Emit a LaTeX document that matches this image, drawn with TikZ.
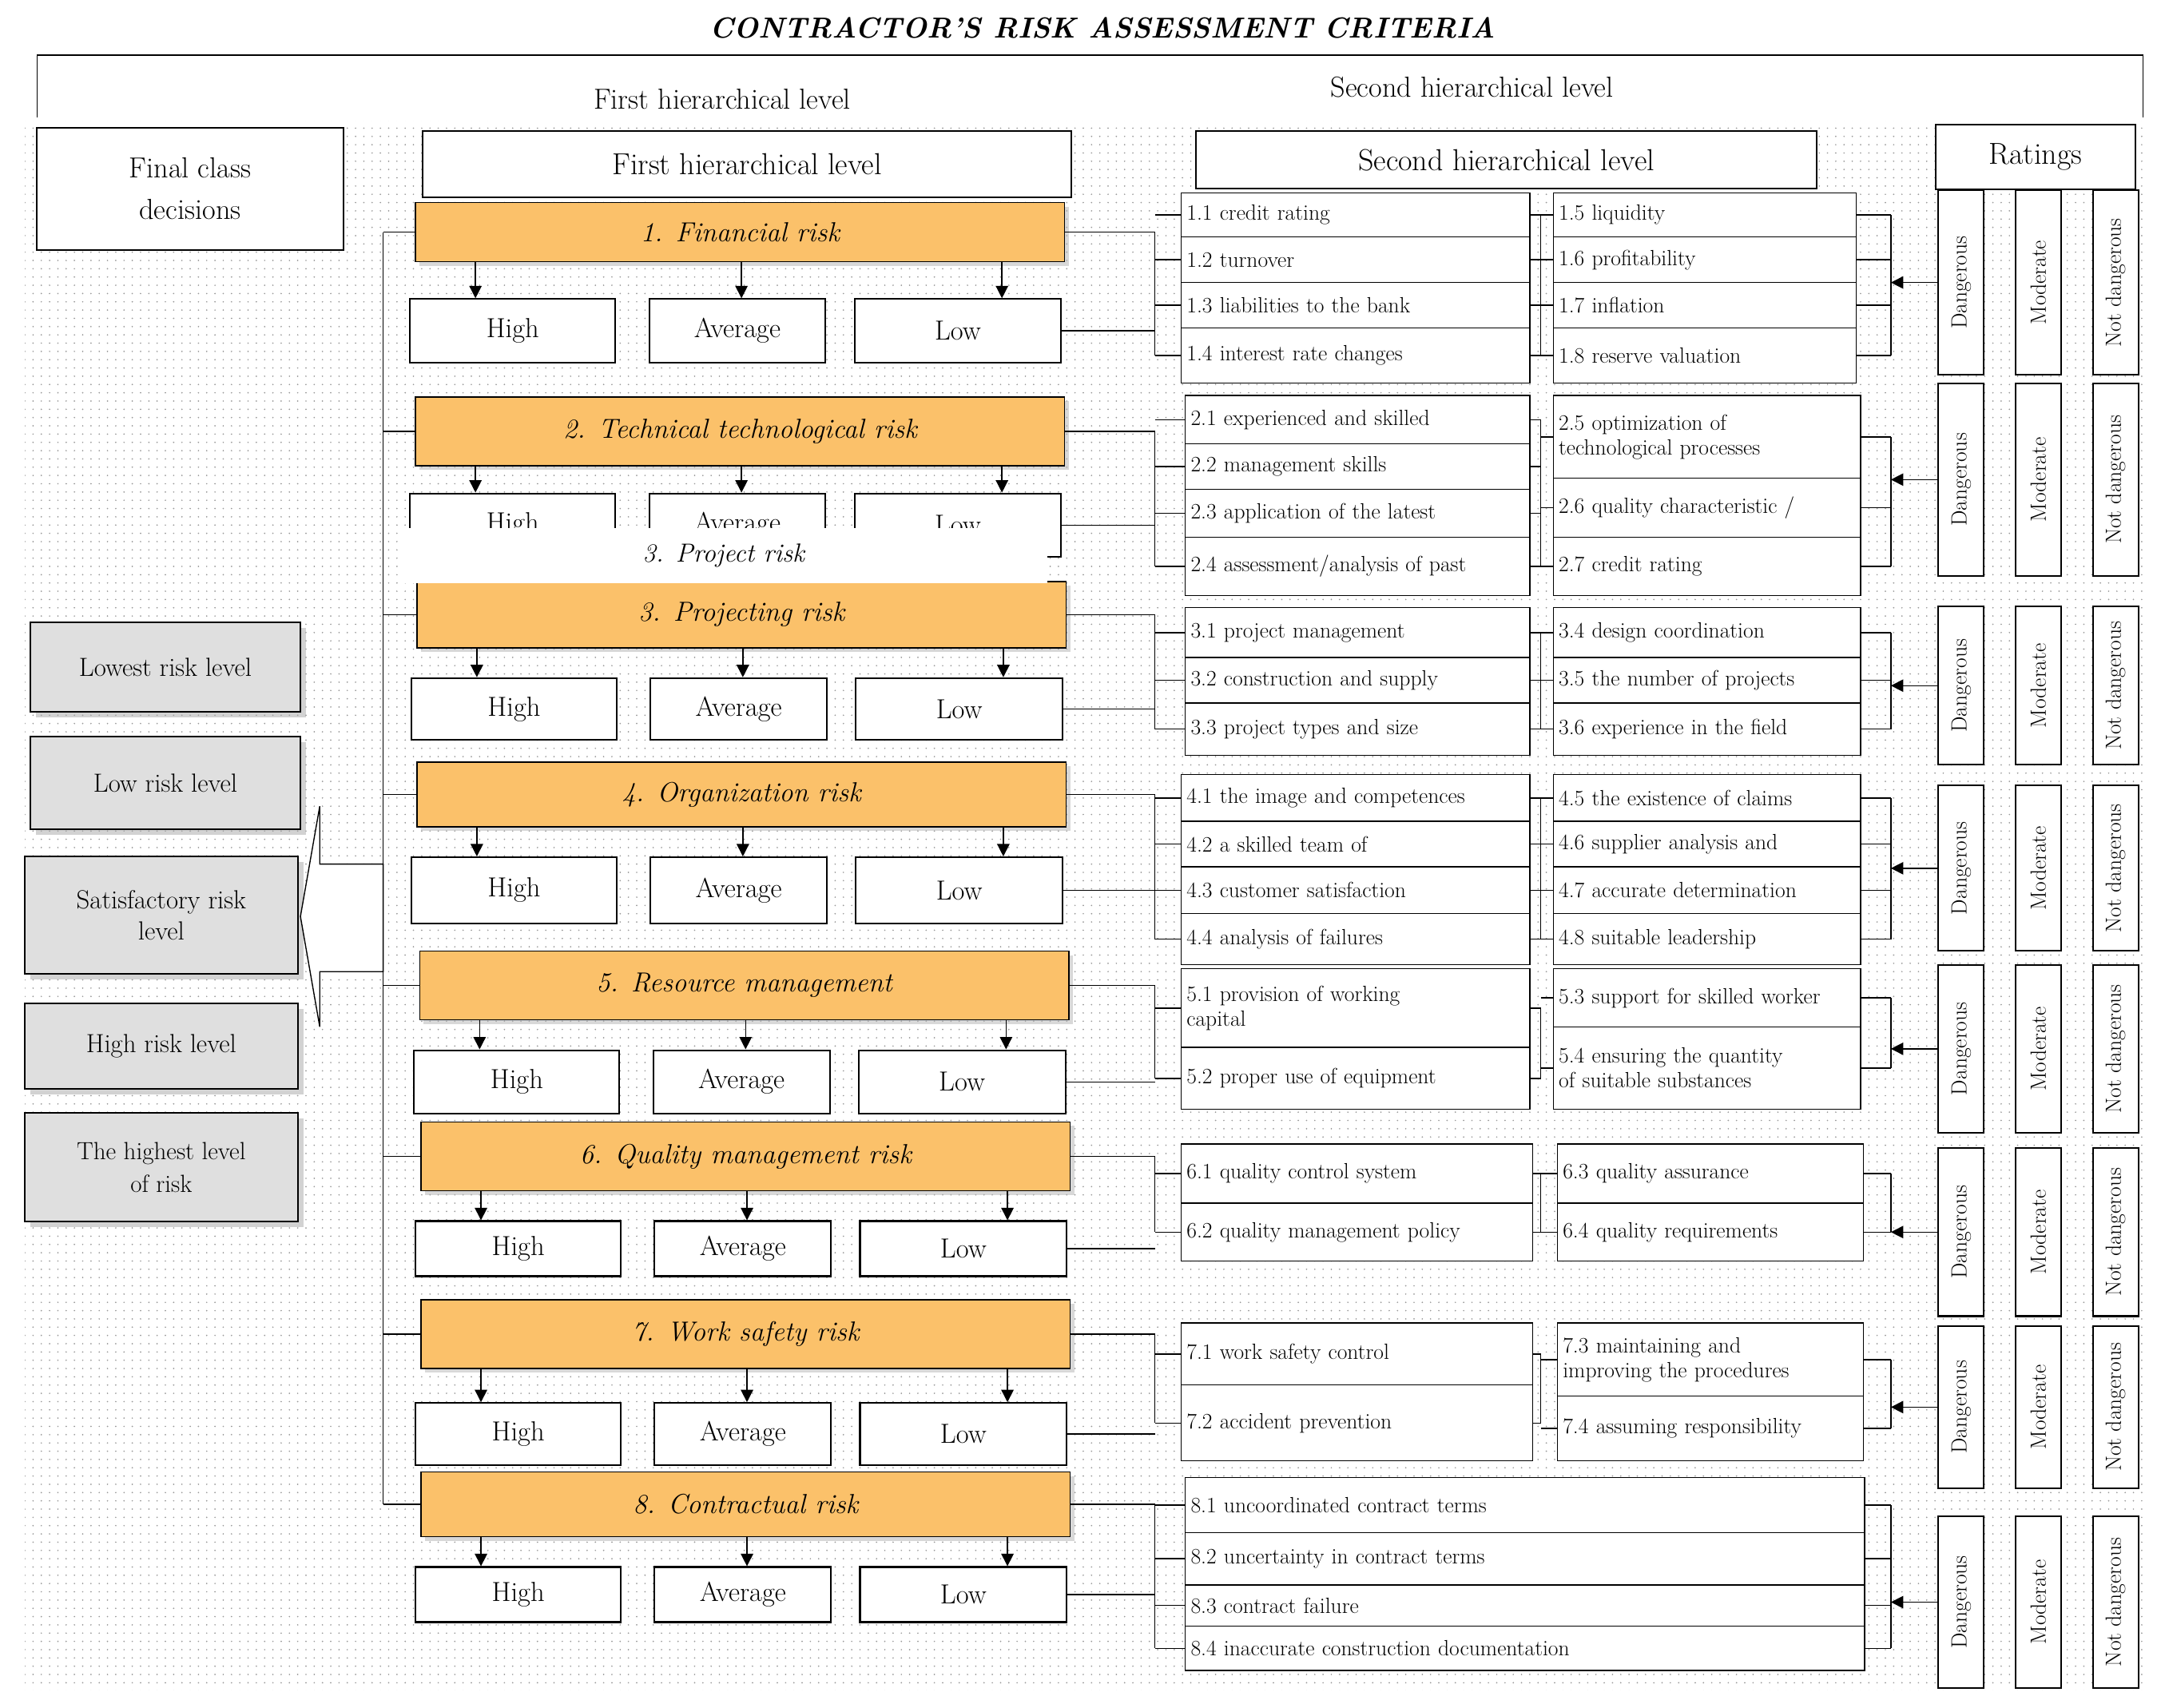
\documentclass[tikz,border=0pt]{standalone}
\usetikzlibrary{shadows,arrows.meta,patterns.meta,calc}
\definecolor{org}{HTML}{FBC16A}
\begin{document}
\begin{tikzpicture}[x=1pt,y=-1pt,
 sub/.style={draw,thick,align=left,inner xsep=4pt,inner ysep=1pt,font={\fontsize{16}{18}\selectfont}},
 hal/.style={draw,very thick,fill=white,font={\fontsize{20}{22}\selectfont},inner sep=0pt},
 ora/.style={draw,thick,fill=org,drop shadow={shadow xshift=3pt,shadow yshift=-3pt,fill=gray!60},font={\fontsize{20}{22}\selectfont\itshape},inner sep=0pt},
 gry/.style={draw,very thick,fill=gray!25,drop shadow={shadow xshift=4pt,shadow yshift=-4pt,fill=gray!70},align=center,font={\fontsize{19}{23}\selectfont},inner sep=0pt},
 hdr/.style={draw,very thick,fill=white,font={\fontsize{22}{24}\selectfont},inner sep=0pt},
 rat/.style={draw,very thick,fill=white,rotate=90,font={\fontsize{16}{18}\selectfont},inner sep=0pt,minimum height=33pt},
 arr/.style={thick,-{Triangle[length=9pt,width=9pt]}},
 ln/.style={thick}]
\useasboundingbox (0,0) rectangle (1568,1239);
\fill[white] (0,0) rectangle (1568,1239);
\fill[pattern={Dots[distance=6pt,radius=0.55pt]},pattern color=gray!80] (18,88) rectangle (1556,1226);
\newcommand\bx[6]{%
 \pgfmathsetmacro\bw{#4-#2}\pgfmathsetmacro\bh{#5-#3}\pgfmathsetmacro\tw{#4-#2-8}%
 \node[sub,fill=white,minimum width=\bw pt,minimum height=\bh pt,text width=\tw pt] (#1) at ({(#2+#4)/2},{(#3+#5)/2}) {#6};}
\newcommand\grp[7]{%
 \node[ora,minimum width=471pt,minimum height={#4-#3}] (o#1) at ({#2+235},{(#3+#4)/2}) {#5};
 \node[hal,minimum width=149pt,minimum height={#7-#6}] (h#1) at ({#2+70},{(#6+#7)/2}) {High};
 \node[hal,minimum width=128pt,minimum height={#7-#6}] (a#1) at ({#2+233},{(#6+#7)/2}) {Average};
 \node[hal,minimum width=150pt,minimum height={#7-#6}] (l#1) at ({#2+393},{(#6+#7)/2}) {Low};
 \coordinate (ax#1) at (#2+43,0);\coordinate (bx#1) at (#2+236,0);\coordinate (cx#1) at (#2+425,0);
 \draw[arr] (o#1.south -| ax#1) -- (h#1.north -| ax#1);
 \draw[arr] (o#1.south -| bx#1) -- (a#1.north -| bx#1);
 \draw[arr] (o#1.south -| cx#1) -- (l#1.north -| cx#1);
 \draw[ln] (o#1.west) -- (o#1.west -| spine);}
\newcommand\rt[3]{%
 \pgfmathsetmacro\rh{#3-#2}%
 \node[rat,minimum width=\rh pt] (d#1) at (1423,{(#2+#3)/2}) {Dangerous};
 \node[rat,minimum width=\rh pt] (m#1) at (1479,{(#2+#3)/2}) {Moderate};
 \node[rat,minimum width=\rh pt] (n#1) at (1535,{(#2+#3)/2}) {Not dangerous};}
\coordinate (spine) at (278,0);
\coordinate (lb) at (838,0);
\coordinate (mb) at (1118,0);
\coordinate (rb) at (1372,0);
% title
\node[font={\fontsize{21}{23}\selectfont\bfseries\itshape}] (title) at (800,20) {CONTRACTOR'S RISK ASSESSMENT CRITERIA};
\draw[thick] (27,85) -- (27,40) -- (1555,40) -- (1555,85);
% headers
\node[hdr,minimum width=223pt,minimum height=89pt,align=center,font={\fontsize{21}{30}\selectfont}] (fcd) at (138,137) {Final class\\decisions};
\node[hdr,minimum width=471pt,minimum height=48pt] (fh) at (542,119) {First hierarchical level};
\node[hdr,minimum width=450pt,minimum height=42pt] (sh) at (1093,116) {Second hierarchical level};
\node[hdr,minimum width=145pt,minimum height=47pt] (rh) at (1477,114) {Ratings};
\node[fill=white,font={\fontsize{21}{23}\selectfont},minimum width=340pt,minimum height=34pt] (fh2) at (524,72) {First hierarchical level};
\node[fill=white,font={\fontsize{21}{23}\selectfont},minimum width=440pt,minimum height=36pt] (sh2) at (1068,63) {Second hierarchical level};
% left grey boxes
\node[gry,minimum width=196pt,minimum height=65pt] (g1) at (120,484) {Lowest risk level};
\node[gry,minimum width=196pt,minimum height=67pt] (g2) at (120,568) {Low risk level};
\node[gry,minimum width=198pt,minimum height=85pt] (g3) at (117,664) {Satisfactory risk\\level};
\node[gry,minimum width=198pt,minimum height=62pt] (g4) at (117,759) {High risk level};
\node[gry,minimum width=198pt,minimum height=79pt,font={\fontsize{18}{24}\selectfont}] (g5) at (117,847) {The highest level\\of risk};
\draw[thick,fill=white] (218,665) -- (232,585) -- (232,627) -- (278,627) -- (278,705) -- (232,705) -- (232,745) -- cycle;
% groups
\grp{1}{302}{147}{190}{1. Financial risk}{217}{263}
\grp{2}{302}{288}{338}{2. Technical technological risk}{358}{404}
\grp{3}{303}{422}{470}{3. Projecting risk}{492}{537}
\grp{4}{303}{553}{600}{4. Organization risk}{622}{670}
\grp{5}{305}{690}{740}{5. Resource management}{762}{808}
\grp{6}{306}{814}{864}{6. Quality management risk}{886}{926}
\grp{7}{306}{943}{993}{7. Work safety risk}{1018}{1063}
\grp{8}{306}{1068}{1115}{8. Contractual risk}{1137}{1177}
\draw[ln] (o1.west -| spine) -- (o8.west -| spine);
\node[fill=white,font={\fontsize{19}{21}\selectfont\itshape},minimum width=470pt,minimum height=40pt] (pr) at (525,403) {3. Project risk};
% sub criteria
\bx{s11}{857}{140}{1110}{172}{1.1 credit rating}
\bx{s12}{857}{172}{1110}{205}{1.2 turnover}
\bx{s13}{857}{205}{1110}{238}{1.3 liabilities to the bank}
\bx{s14}{857}{238}{1110}{278}{1.4 interest rate changes}
\bx{s15}{1127}{140}{1347}{172}{1.5 liquidity}
\bx{s16}{1127}{172}{1347}{205}{1.6 profitability}
\bx{s17}{1127}{205}{1347}{238}{1.7 inflation}
\bx{s18}{1127}{238}{1347}{278}{1.8 reserve valuation}
\bx{s21}{860}{287}{1110}{322}{2.1 experienced and skilled}
\bx{s22}{860}{322}{1110}{355}{2.2 management skills}
\bx{s23}{860}{355}{1110}{390}{2.3 application of the latest}
\bx{s24}{860}{390}{1110}{432}{2.4 assessment/analysis of past}
\bx{s25}{1127}{287}{1350}{347}{2.5 optimization of\\technological processes}
\bx{s26}{1127}{347}{1350}{390}{2.6 quality characteristic /}
\bx{s27}{1127}{390}{1350}{432}{2.7 credit rating}
\bx{s31}{860}{441}{1110}{477}{3.1 project management}
\bx{s32}{860}{477}{1110}{510}{3.2 construction and supply}
\bx{s33}{860}{510}{1110}{548}{3.3 project types and size}
\bx{s34}{1127}{441}{1350}{477}{3.4 design coordination}
\bx{s35}{1127}{477}{1350}{510}{3.5 the number of projects}
\bx{s36}{1127}{510}{1350}{548}{3.6 experience in the field}
\bx{s41}{857}{562}{1110}{596}{4.1 the image and competences}
\bx{s42}{857}{596}{1110}{629}{4.2 a skilled team of}
\bx{s43}{857}{629}{1110}{663}{4.3 customer satisfaction}
\bx{s44}{857}{663}{1110}{700}{4.4 analysis of failures}
\bx{s45}{1127}{562}{1350}{596}{4.5 the existence of claims}
\bx{s46}{1127}{596}{1350}{629}{4.6 supplier analysis and}
\bx{s47}{1127}{629}{1350}{663}{4.7 accurate determination}
\bx{s48}{1127}{663}{1350}{700}{4.8 suitable leadership}
\bx{s51}{857}{703}{1110}{760}{5.1 provision of working\\capital}
\bx{s52}{857}{760}{1110}{805}{5.2 proper use of equipment}
\bx{s53}{1127}{703}{1350}{745}{5.3 support for skilled worker}
\bx{s54}{1127}{745}{1350}{805}{5.4 ensuring the quantity\\of suitable substances}
\bx{s61}{857}{830}{1112}{873}{6.1 quality control system}
\bx{s62}{857}{873}{1112}{915}{6.2 quality management policy}
\bx{s63}{1130}{830}{1352}{873}{6.3 quality assurance}
\bx{s64}{1130}{873}{1352}{915}{6.4 quality requirements}
\bx{s71}{857}{960}{1112}{1005}{7.1 work safety control}
\bx{s72}{857}{1005}{1112}{1060}{7.2 accident prevention}
\bx{s73}{1130}{960}{1352}{1013}{7.3 maintaining and\\improving the procedures}
\bx{s74}{1130}{1013}{1352}{1060}{7.4 assuming responsibility}
\bx{s81}{860}{1072}{1353}{1112}{8.1 uncoordinated contract terms}
\bx{s82}{860}{1112}{1353}{1150}{8.2 uncertainty in contract terms}
\bx{s83}{860}{1150}{1353}{1180}{8.3 contract failure}
\bx{s84}{860}{1180}{1353}{1212}{8.4 inaccurate construction documentation}
% ratings
\rt{1}{138}{272}
\rt{2}{278}{418}
\rt{3}{440}{555}
\rt{4}{570}{690}
\rt{5}{700}{822}
\rt{6}{833}{955}
\rt{7}{962}{1080}
\rt{8}{1100}{1225}
% left brackets
\foreach \g/\f/\l in {1/s11/s14,2/s21/s24,3/s31/s33,4/s41/s44,5/s51/s52,6/s61/s62,7/s71/s72,8/s81/s84}{
 \draw[ln] (o\g.east) -- (o\g.east -| lb) -- (\l.west -| lb);
 \draw[ln] (l\g.east) -- (l\g.east -| lb);}
\foreach \s in {s11,s12,s13,s14,s21,s22,s23,s24,s31,s32,s33,s41,s42,s43,s44,s51,s52,s61,s62,s71,s72,s81,s82,s83,s84}{
 \draw[ln] (\s.west -| lb) -- (\s.west);}
% middle connectors
\foreach \a/\b in {s11/s14,s21/s24,s31/s33,s41/s44,s51/s52,s61/s62,s71/s72}{
 \draw[ln] (\a.east -| mb) -- (\b.east -| mb);}
\foreach \s in {s11,s12,s13,s14,s21,s22,s23,s24,s31,s32,s33,s41,s42,s43,s44,s51,s52,s61,s62,s71,s72}{
 \draw[ln] (\s.east) -- (\s.east -| mb);}
\foreach \s in {s15,s16,s17,s18,s25,s26,s27,s34,s35,s36,s45,s46,s47,s48,s53,s54,s63,s64,s73,s74}{
 \draw[ln] (\s.west -| mb) -- (\s.west);}
% right brackets
\foreach \g/\f/\l in {1/s15/s18,2/s25/s27,3/s34/s36,4/s45/s48,5/s53/s54,6/s63/s64,7/s73/s74,8/s81/s84}{
 \draw[ln] (\f.east -| rb) -- (\l.east -| rb);
 \draw[arr] (d\g.north) -- (d\g.north -| rb);}
\foreach \s in {s15,s16,s17,s18,s25,s26,s27,s34,s35,s36,s45,s46,s47,s48,s53,s54,s63,s64,s73,s74,s81,s82,s83,s84}{
 \draw[ln] (\s.east) -- (\s.east -| rb);}
\end{tikzpicture}
\end{document}
